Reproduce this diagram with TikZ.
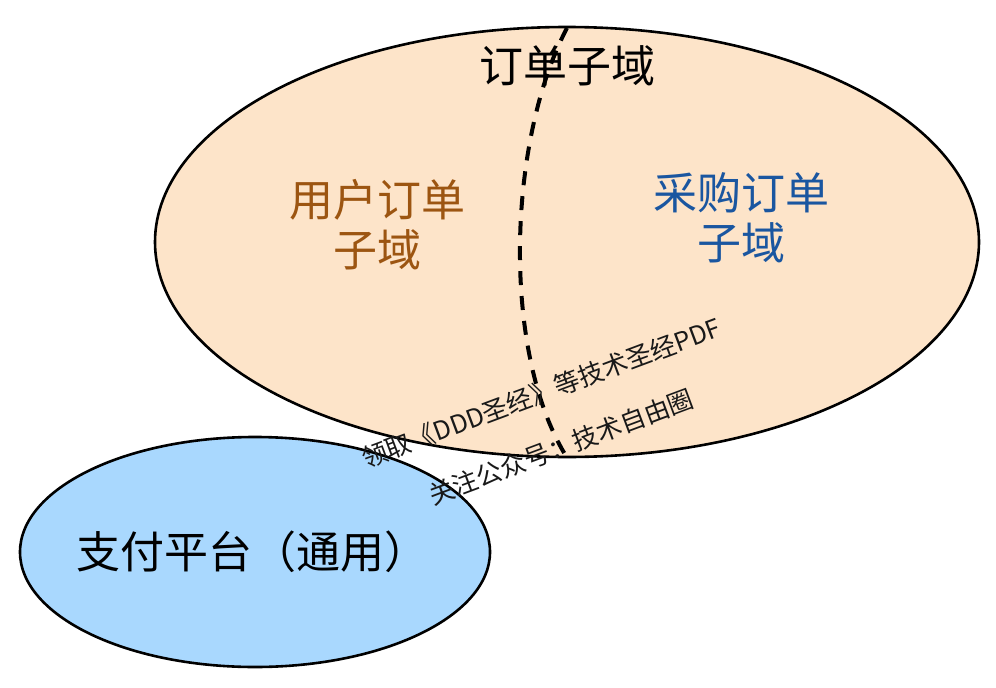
\documentclass[tikz,border=0pt]{standalone}
\usepackage{fontspec}
\setmainfont{Noto Sans CJK SC}
\usetikzlibrary{shapes.geometric}
\definecolor{peach}{HTML}{FDE4C9}
\definecolor{skyblue}{HTML}{A9D8FE}
\definecolor{brownt}{HTML}{9C5511}
\definecolor{bluet}{HTML}{1A56A0}
\tikzset{
  regionshape/.style={ellipse, draw=black, line width=2.6pt, inner sep=0pt},
  bigtext/.style={font=\fontsize{44}{50}\selectfont, align=center, inner sep=0pt},
  wm/.style={font=\fontsize{25.5}{29}\selectfont, rotate=20.5, inner sep=0pt, text=black!90},
  dashline/.style={line width=4pt, dash pattern=on 14pt off 11pt}
}
\begin{document}
\begin{tikzpicture}[x=1pt,y=-1pt]
\useasboundingbox (0,0) rectangle (996,688);
\node[regionshape, fill=peach, minimum width=824pt, minimum height=430pt] (order) at (567,242) {};
\node[regionshape, fill=skyblue, minimum width=470pt, minimum height=230pt] (pay) at (255,552) {};
\coordinate (dtop) at (567,28);
\coordinate (dbot) at (566,456);
\draw[dashline] (dtop) .. controls (508,140) and (501,350) .. (dbot);
\node[bigtext] (otitle) at (567,66) {订单子域};
\node[bigtext, text=brownt] (user) at (377,225) {用户订单\\子域};
\node[bigtext, text=bluet] (purchase) at (741,218) {采购订单\\子域};
\node[bigtext] (paytext) at (252,552) {支付平台（通用）};
\node[wm] (wm1) at (541,393) {领取《DDD圣经》等技术圣经PDF};
\node[wm] (wm2) at (561,447) {关注公众号：技术自由圈};
\end{tikzpicture}
\end{document}
